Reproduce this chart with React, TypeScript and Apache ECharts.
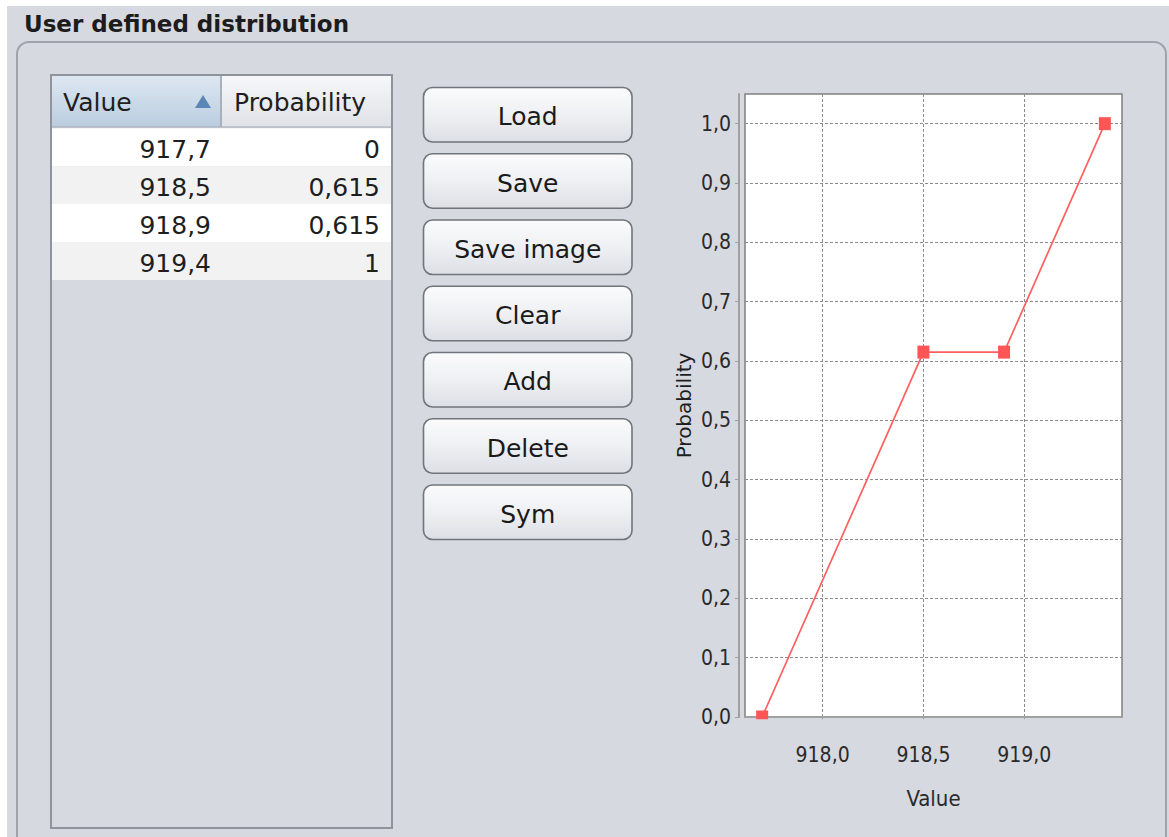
import React, { useEffect, useRef } from "react";
import * as echarts from "echarts";

// ---- data ----
const values = [917.7, 918.5, 918.9, 919.4];
const probabilities = [0, 0.615, 0.615, 1];
const columnHeaders = ["Value", "Probability"];
const buttonLabels = ["Load", "Save", "Save image", "Clear", "Add", "Delete", "Sym"];
const xTickValues = [918.0, 918.5, 919.0];
const yTickValues = [0, 0.1, 0.2, 0.3, 0.4, 0.5, 0.6, 0.7, 0.8, 0.9, 1.0];
const xRange = [917.615, 919.485];
const yRange = [0, 1.05];
const title = "User defined distribution";
const xName = "Value";
const yName = "Probability";

const BG = "#d6d9e0";
const UI_FONT = "'DejaVu Sans', 'Liberation Sans', sans-serif";
const CHART_FONT = "'Liberation Sans Narrow', 'DejaVu Sans Condensed', 'Liberation Sans', sans-serif";

const fmtComma = (v: number) => v.toFixed(1).replace(".", ",");
const fmtTable = (v: number) => String(v).replace(".", ",");

function buildGraphics() {
  const els: any[] = [];
  // page background
  els.push({ type: "rect", z: -10, shape: { x: 7, y: 6, width: 1162, height: 831 }, style: { fill: BG } });
  // title
  els.push({
    type: "text", x: 24, y: 24, z: 1,
    style: { text: title, fontFamily: UI_FONT, fontSize: 23, fontWeight: "bold", fill: "#1c1c1c", verticalAlign: "middle", align: "left" },
  });
  // titled panel border
  els.push({
    type: "rect", z: 1,
    shape: { x: 17, y: 42, width: 1149, height: 830, r: 12 },
    style: { fill: "none", stroke: "#9ea2aa", lineWidth: 2 },
  });

  // table
  const tx = 51, ty = 75, tw = 341, th = 753;
  const colSplit = 221;
  els.push({ type: "rect", z: 1, shape: { x: tx, y: ty, width: tw, height: th }, style: { fill: BG, stroke: "#8f949c", lineWidth: 2 } });
  // header cells
  els.push({
    type: "rect", z: 2, shape: { x: tx + 1, y: ty + 1, width: colSplit - tx - 1, height: 51 },
    style: { fill: new echarts.graphic.LinearGradient(0, 0, 0, 1, [{ offset: 0, color: "#dde7f1" }, { offset: 1, color: "#bacde0" }]) },
  });
  els.push({
    type: "rect", z: 2, shape: { x: colSplit, y: ty + 1, width: tx + tw - colSplit - 1, height: 51 },
    style: { fill: new echarts.graphic.LinearGradient(0, 0, 0, 1, [{ offset: 0, color: "#f6f7f9" }, { offset: 1, color: "#dfe2e7" }]) },
  });
  els.push({ type: "line", z: 3, shape: { x1: colSplit, y1: ty + 1, x2: colSplit, y2: ty + 52 }, style: { stroke: "#a9b0b9", lineWidth: 2 } });
  els.push({ type: "line", z: 3, shape: { x1: tx + 1, y1: ty + 52, x2: tx + tw - 1, y2: ty + 52 }, style: { stroke: "#a3aab3", lineWidth: 1 } });
  els.push({
    type: "text", z: 3, x: 63, y: 102,
    style: { text: columnHeaders[0], fontFamily: UI_FONT, fontSize: 25, fill: "#1e1e1e", verticalAlign: "middle", align: "left" },
  });
  els.push({
    type: "text", z: 3, x: 234, y: 102,
    style: { text: columnHeaders[1], fontFamily: UI_FONT, fontSize: 25, fill: "#1e1e1e", verticalAlign: "middle", align: "left" },
  });
  els.push({ type: "polygon", z: 3, shape: { points: [[195, 108], [211, 108], [203, 95]] }, style: { fill: "#5b86b6" } });

  // rows
  const rowTop = 128.3, rowH = 37.9;
  values.forEach((v, i) => {
    const y0 = rowTop + i * rowH;
    els.push({
      type: "rect", z: 2, shape: { x: tx + 1, y: y0, width: tw - 2, height: rowH },
      style: { fill: i % 2 === 0 ? "#ffffff" : "#f2f2f2" },
    });
    els.push({
      type: "text", z: 3, x: 211, y: y0 + 21,
      style: { text: fmtTable(v), fontFamily: UI_FONT, fontSize: 25, fill: "#1e1e1e", verticalAlign: "middle", align: "right" },
    });
    els.push({
      type: "text", z: 3, x: 380, y: y0 + 21,
      style: { text: fmtTable(probabilities[i]), fontFamily: UI_FONT, fontSize: 25, fill: "#1e1e1e", verticalAlign: "middle", align: "right" },
    });
  });

  // buttons
  const bx = 423.5, bw = 208.5, bh = 54.5, bTop = 87.5, bStep = 66.25;
  buttonLabels.forEach((label, i) => {
    const y0 = bTop + i * bStep;
    els.push({
      type: "rect", z: 2, shape: { x: bx, y: y0, width: bw, height: bh, r: 9 },
      style: {
        fill: new echarts.graphic.LinearGradient(0, 0, 0, 1, [
          { offset: 0, color: "#fbfbfc" },
          { offset: 0.5, color: "#eef0f3" },
          { offset: 1, color: "#dcdfe5" },
        ]),
        stroke: "#70747b", lineWidth: 1.6,
      },
    });
    els.push({
      type: "text", z: 3, x: bx + bw / 2, y: y0 + bh / 2 + 2,
      style: { text: label, fontFamily: UI_FONT, fontSize: 25, fill: "#1a1a1a", verticalAlign: "middle", align: "center" },
    });
  });

  // hide the part of markers that falls below the plot area (plot clipping)
  els.push({ type: "rect", z: 100, shape: { x: 738, y: 719.2, width: 390, height: 7.3 }, style: { fill: BG } });
  return els;
}

export default function App() {
  const ref = useRef<HTMLDivElement>(null);
  useEffect(() => {
    if (!ref.current) return;
    const chart = echarts.init(ref.current, null, { renderer: "svg" });
    chart.setOption({
      animation: false,
      backgroundColor: "#ffffff",
      graphic: { elements: buildGraphics() },
      grid: {
        left: 745, top: 94, width: 377, height: 623,
        show: true, backgroundColor: "#ffffff", borderColor: "#808080", borderWidth: 1.5,
        containLabel: false, outerBoundsMode: "none",
      },
      xAxis: {
        type: "value", min: xRange[0], max: xRange[1], offset: 10,
        name: xName, nameLocation: "middle", nameGap: 60,
        nameTextStyle: { fontFamily: CHART_FONT, fontSize: 22, color: "#2a2a2a" },
        axisLine: { show: true, lineStyle: { color: "#a0a0a0", width: 2 } },
        axisTick: { show: true, length: 5, customValues: xTickValues, lineStyle: { color: "#a0a0a0" } },
        axisLabel: { customValues: xTickValues, formatter: fmtComma, fontFamily: CHART_FONT, fontSize: 21, color: "#2a2a2a", margin: 17 },
        splitLine: { show: true, lineStyle: { color: "#8c8c8c", type: [3, 2], width: 1 } },
      },
      yAxis: {
        type: "value", min: yRange[0], max: yRange[1], offset: 6,
        name: yName, nameLocation: "middle", nameGap: 45, nameRotate: 90,
        nameTextStyle: { fontFamily: UI_FONT, fontSize: 20, color: "#1e1e1e" },
        axisLine: { show: true, lineStyle: { color: "#a0a0a0", width: 2 } },
        axisTick: { show: true, length: 4, customValues: yTickValues, lineStyle: { color: "#a0a0a0" } },
        axisLabel: { customValues: yTickValues, formatter: fmtComma, fontFamily: CHART_FONT, fontSize: 21, color: "#2a2a2a", margin: 8 },
        splitLine: { show: true, lineStyle: { color: "#8c8c8c", type: [3, 2], width: 1 } },
      },
      series: [
        {
          type: "line",
          data: values.map((v, i) => [v, probabilities[i]]),
          symbol: "rect", symbolSize: [12, 13], showAllSymbol: true,
          itemStyle: { color: "#ff5555" },
          lineStyle: { color: "#ff5f5f", width: 1.7 },
          clip: false,
        },
      ],
    });
    return () => chart.dispose();
  }, []);
  return <div ref={ref} style={{ position: "fixed", left: 0, top: 0, width: 1169, height: 837 }} />;
}
